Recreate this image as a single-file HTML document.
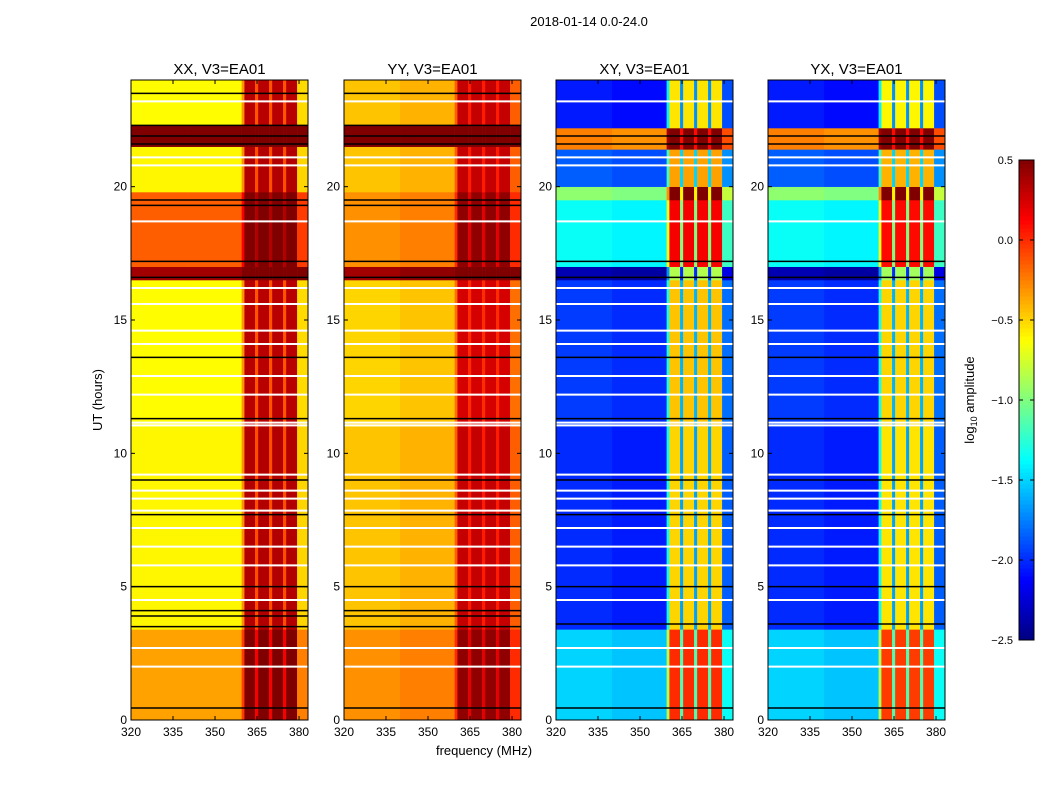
<!DOCTYPE html>
<html><head><meta charset="utf-8">
<style>
body{margin:0;background:#fff;}
svg text{font-family:"Liberation Sans",sans-serif;}
</style></head>
<body>
<svg id="fig" width="1050" height="800" xmlns="http://www.w3.org/2000/svg">
<rect width="1050" height="800" fill="#fff"/>
<text x="589" y="26" font-size="13" text-anchor="middle">2018-01-14 0.0-24.0</text>
<text x="102" y="400" font-size="13" text-anchor="middle" transform="rotate(-90 102 400)">UT (hours)</text>
<text x="484" y="755" font-size="13" text-anchor="middle">frequency (MHz)</text>
<g id="panels"></g>
<g id="cbar"></g>
<text x="974" y="400" font-size="13" text-anchor="middle" transform="rotate(-90 974 400)">log<tspan font-size="9" dy="3">10</tspan><tspan dy="-3"> amplitude</tspan></text>
</svg>
<script>
const panelTitles=["XX, V3=EA01","YY, V3=EA01","XY, V3=EA01","YX, V3=EA01"];
const panelLefts=[131,344,556,768];
const xTicks=[320,335,350,365,380];
const yTicks=[0,5,10,15,20];
const cbTicks=[0.5,0.0,-0.5,-1.0,-1.5,-2.0,-2.5];
const freqEdges=[320,340,359.5,360.5,364.3,365.4,369.3,370.4,374.3,375.4,379.3,383.2];
// time bands: [start, end, level]
const bandsXX=[[0,3.4,-0.35],[3.4,11,-0.6],[11,16.5,-0.62],[16.5,17,0.4],[17,19.8,-0.15],[19.8,21.5,-0.6],[21.5,22.3,0.5],[22.3,24,-0.62]];
const bandsYY=[[0,3.4,-0.3],[3.4,11,-0.45],[11,16.5,-0.5],[16.5,17,0.4],[17,19.8,-0.3],[19.8,21.5,-0.45],[21.5,22.3,0.5],[22.3,24,-0.45]];
const bandsXY=[[0,3.4,-1.65],[3.4,11,-2.15],[11,16.5,-2.1],[16.5,17,-2.5],[17,19.5,-1.5],[19.5,20,-1.1],[20,21.4,-2.0],[21.4,22.2,-0.4],[22.2,24,-2.2]];
const bandsYX=[[0,3.4,-1.65],[3.4,11,-2.15],[11,16.5,-2.1],[16.5,17,-2.5],[17,19.5,-1.5],[19.5,20,-1.1],[20,21.4,-2.0],[21.4,22.2,-0.4],[22.2,24,-2.2]];
// frequency column offsets
const colXX=[0,0,0.3,0.95,0.5,0.95,0.5,0.95,0.5,0.95,0.1];
const colYY=[0,0.05,0.3,0.75,0.5,0.75,0.5,0.75,0.5,0.75,0.3];
const colXY=[0.15,0.1,0.8,1.65,0.5,1.65,0.5,1.65,0.5,1.65,0.3];
const colYX=[0.15,0.1,0.8,1.6,0.5,1.6,0.5,1.6,0.5,1.6,0.3];
// flagged lines (hours)
const blackLinesXX=[0.45,3.5,3.9,4.1,5.0,7.7,9.0,11.3,13.6,16.6,17.2,19.3,19.5,21.6,21.9,22.3,23.5];
const whiteLines=[2.0,2.7,4.5,5.8,6.5,7.2,7.85,8.3,8.6,9.2,11.05,11.15,12.2,12.9,14.1,14.6,15.6,16.2,18.7,20.8,21.1,23.2];
const blackLinesXY=[0.45,3.6,5.0,7.7,9.0,11.3,13.6,16.6,17.2,21.6,21.9];
const allBands=[bandsXX,bandsYY,bandsXY,bandsYX];
const allCols=[colXX,colYY,colXY,colYX];
const allBlack=[blackLinesXX,blackLinesXX,blackLinesXY,blackLinesXY];

const NS="http://www.w3.org/2000/svg";
const top0=80,bot=720,pw=177,vmin=-2.5,vmax=0.5;
const fmin=320,fmax=383.2,tmax=24;
function xs(f,l){return l+(f-fmin)/(fmax-fmin)*pw;}
function ys(t){return bot-t/tmax*(bot-top0);}
function jet(v){let t=Math.max(0,Math.min(1,(v-vmin)/(vmax-vmin)));
 const c=x=>Math.round(255*Math.max(0,Math.min(1,x)));
 return `rgb(${c(1.5-Math.abs(4*t-3))},${c(1.5-Math.abs(4*t-2))},${c(1.5-Math.abs(4*t-1))})`;}
function el(tag,attrs,parent){const e=document.createElementNS(NS,tag);for(const k in attrs)e.setAttribute(k,attrs[k]);parent.appendChild(e);return e;}
const P=document.getElementById('panels');
panelLefts.forEach((L,pi)=>{
 const g=el('g',{},P);
 
 
 const cells=el('g',{},g);
 
 
 allBands[pi].forEach(b=>{
  for(let c=0;c<freqEdges.length-1;c++){
   const x0=xs(freqEdges[c],L),x1=xs(freqEdges[c+1],L);
   const r=el('rect',{x:x0,y:ys(b[1]),width:x1-x0+0.3,height:ys(b[0])-ys(b[1])+0.3,fill:jet(b[2]+allCols[pi][c])},cells);
   
   
  }
 });
 whiteLines.forEach(t=>{const l=el('line',{x1:L,x2:L+pw,y1:ys(t),y2:ys(t),stroke:'#fff','stroke-width':2},g);
  });
 allBlack[pi].forEach(t=>{const l=el('line',{x1:L,x2:L+pw,y1:ys(t),y2:ys(t),stroke:'#000','stroke-width':1.5},g);
  });
 const fr=el('rect',{x:L,y:top0,width:pw,height:bot-top0,fill:'none',stroke:'#000'},g);
 
 const tt=el('text',{x:L+pw/2,y:74,'font-size':15,'text-anchor':'middle'},g);tt.textContent=panelTitles[pi];
 
 xTicks.forEach(f=>{const x=xs(f,L);
  el('line',{x1:x,x2:x,y1:bot,y2:bot-4,stroke:'#000'},g);el('line',{x1:x,x2:x,y1:top0,y2:top0+4,stroke:'#000'},g);
  const t=el('text',{x:x,y:bot+16,'font-size':12,'text-anchor':'middle'},g);t.textContent=f;
  });
 yTicks.forEach(v=>{const y=ys(v);
  el('line',{x1:L,x2:L+4,y1:y,y2:y,stroke:'#000'},g);el('line',{x1:L+pw,x2:L+pw-4,y1:y,y2:y,stroke:'#000'},g);
  const t=el('text',{x:L-4,y:y+4,'font-size':12,'text-anchor':'end'},g);t.textContent=v;
  });
});
const C=document.getElementById('cbar');
const cx=1019,cw=15,ct=160,cb=640;
for(let i=0;i<120;i++){const v=vmin+(i+0.5)/120*(vmax-vmin);
 el('rect',{x:cx,y:cb-(i+1)*(cb-ct)/120,width:cw,height:(cb-ct)/120+0.5,fill:jet(v)},C);}
el('rect',{x:cx,y:ct,width:cw,height:cb-ct,fill:'none',stroke:'#000'},C);
cbTicks.forEach(v=>{const y=cb-(v-vmin)/(vmax-vmin)*(cb-ct);
 el('line',{x1:cx+cw-4,x2:cx+cw,y1:y,y2:y,stroke:'#000'},C);
 el('line',{x1:cx,x2:cx+4,y1:y,y2:y,stroke:'#000'},C);
 const t=el('text',{x:1013,y:y+4,'font-size':11,'text-anchor':'end'},C);t.textContent=(v<0?'\u2212':'')+Math.abs(v).toFixed(1);
 });
</script>
</body></html>
